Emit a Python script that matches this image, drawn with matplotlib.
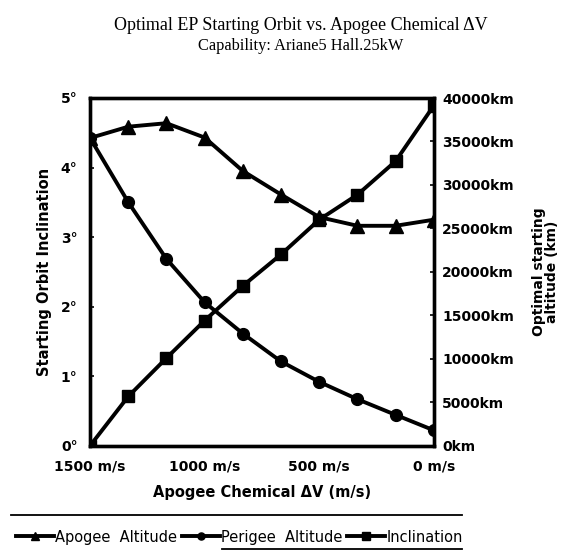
import matplotlib.pyplot as plt
from matplotlib.lines import Line2D

# apogee delta-V values (m/s)
delta_v = [1500, 1333, 1167, 1000, 833, 667, 500, 333, 167, 0]

# optimal starting altitudes (km)
apogee_alt = [35400, 36700, 37100, 35450, 31600, 28900, 26300, 25300, 25300, 26000]
perigee_alt = [35400, 28000, 21500, 16500, 12900, 9700, 7350, 5350, 3560, 1780]

# starting orbit inclination (deg)
inclination = [0.0, 0.71, 1.26, 1.80, 2.30, 2.75, 3.25, 3.61, 4.09, 4.89]

x_ticks = [1500, 1000, 500, 0]
deg_ticks = [0, 1, 2, 3, 4, 5]
km_ticks = [0, 5000, 10000, 15000, 20000, 25000, 30000, 35000, 40000]

plt.rcParams['font.family'] = ['DejaVu Sans']

fig = plt.figure(figsize=(5.7, 5.6), dpi=100)
ax = fig.add_axes([0.158, 0.204, 0.603, 0.621])
ax2 = ax.twinx()

lw = 2.8
l_inc, = ax.plot(delta_v, inclination, color='black', lw=lw, marker='s', ms=9,
                 label='Inclination')
l_apo, = ax2.plot(delta_v, apogee_alt, color='black', lw=lw, marker='^', ms=10,
                  label='Apogee  Altitude')
l_per, = ax2.plot(delta_v, perigee_alt, color='black', lw=lw, marker='o', ms=8.5,
                  label='Perigee  Altitude')

ax.set_xlim(1500, 0)
ax.set_ylim(0, 5)
ax2.set_ylim(0, 40000)
ax.set_xticks(x_ticks)
ax.set_xticklabels(['%d m/s' % v for v in x_ticks], fontweight='bold', fontsize=10)
ax.set_yticks(deg_ticks)
ax.set_yticklabels(['%d\u00b0' % v for v in deg_ticks], fontweight='bold', fontsize=10)
ax2.set_yticks(km_ticks)
ax2.set_yticklabels(['%dkm' % v for v in km_ticks], fontweight='bold', fontsize=10)

for a in (ax, ax2):
    a.tick_params(direction='in', length=3, width=1.2)
    for s in a.spines.values():
        s.set_linewidth(2.4)
ax.tick_params(axis='x', length=0, pad=10)
ax.tick_params(axis='y', pad=9)
ax2.tick_params(axis='y', pad=6)

ax.set_xlabel('Apogee Chemical \u0394V (m/s)', fontweight='bold', fontsize=10.5, labelpad=8)
ax.set_ylabel('Starting Orbit Inclination', fontweight='bold', fontsize=10.5, labelpad=6)
ax2.set_ylabel('Optimal starting\naltitude (km)', fontweight='bold', fontsize=10,
               labelpad=13, linespacing=0.9)

fig.text(0.528, 0.954, 'Optimal EP Starting Orbit vs. Apogee Chemical \u0394V',
         ha='center', va='center', fontsize=13, family='Liberation Serif')
fig.text(0.528, 0.918, 'Capability: Ariane5 Hall.25kW',
         ha='center', va='center', fontsize=11.8, family='Liberation Serif')

fig.legend(handles=[l_apo, l_per, l_inc], loc='center', bbox_to_anchor=(0.42, 0.041),
           ncol=3, frameon=False, fontsize=10.5, handlelength=2.6, handletextpad=0.1,
           columnspacing=0.3, markerscale=0.6)

fig.add_artist(Line2D([0.02, 0.81], [0.08, 0.08], color='black', lw=1.3))
fig.add_artist(Line2D([0.39, 0.81], [0.02, 0.02], color='black', lw=1.3))

fig.savefig('out.png', dpi=100)
